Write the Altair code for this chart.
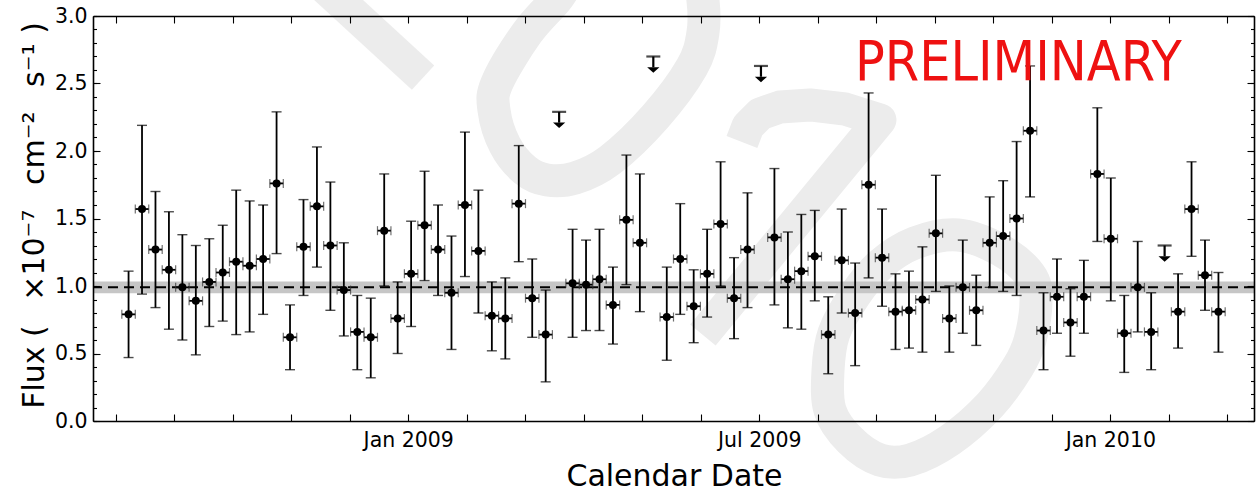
import altair as alt
import pandas as pd

# ---------------- data ----------------
bin_start_mjd = 54683.0      # start of the first weekly bin (MJD)
bin_days = 7.0

# weekly flux (1e-7 ph cm^-2 s^-1); None = week with an upper limit only
flux = [0.79, 1.57, 1.27, 1.12, 0.99, 0.89, 1.03, 1.10, 1.18, 1.15,
        1.20, 1.76, 0.62, 1.29, 1.59, 1.30, 0.97, 0.66, 0.62, 1.41,
        0.76, 1.09, 1.45, 1.27, 0.95, 1.60, 1.26, 0.78, 0.76, 1.61,
        0.91, 0.64, None, 1.02, 1.01, 1.05, 0.86, 1.49, 1.32, None,
        0.77, 1.20, 0.85, 1.09, 1.46, 0.91, 1.27, None, 1.36, 1.05,
        1.11, 1.22, 0.64, 1.19, 0.80, 1.75, 1.21, 0.81, 0.82, 0.90,
        1.39, 0.76, 0.99, 0.82, 1.32, 1.37, 1.50, 2.15, 0.67, 0.92,
        0.73, 0.92, 1.83, 1.35, 0.65, 0.99, 0.66, None, 0.81, 1.57,
        1.08, 0.81]
flux_hi = [1.11, 2.19, 1.70, 1.55, 1.38, 1.30, 1.35, 1.45, 1.71, 1.63,
           1.60, 2.29, 0.86, 1.64, 2.03, 1.77, 1.32, 0.93, 0.91, 1.83,
           1.03, 1.48, 1.85, 1.60, 1.37, 2.14, 1.71, 1.03, 1.06, 2.04,
           1.20, 0.97, None, 1.42, 1.34, 1.42, 1.14, 1.97, 1.83, None,
           1.14, 1.61, 1.12, 1.42, 1.92, 1.21, 1.69, None, 1.87, 1.40,
           1.53, 1.56, 0.92, 1.57, 1.17, 2.43, 1.57, 1.09, 1.11, 1.29,
           1.82, 1.00, 1.34, 1.08, 1.66, 1.78, 2.07, 2.63, 0.95, 1.20,
           0.98, 1.19, 2.32, 1.80, 0.93, 1.33, 0.95, None, 1.09, 1.92,
           1.34, 1.10]
flux_lo = [0.47, 0.94, 0.84, 0.68, 0.60, 0.49, 0.70, 0.74, 0.64, 0.66,
           0.79, 1.24, 0.38, 0.93, 1.14, 0.82, 0.63, 0.38, 0.32, 1.00,
           0.50, 0.70, 1.04, 0.93, 0.53, 1.07, 0.80, 0.52, 0.46, 1.18,
           0.62, 0.29, None, 0.62, 0.67, 0.67, 0.57, 1.01, 0.81, None,
           0.45, 0.79, 0.58, 0.77, 1.00, 0.61, 0.84, None, 0.86, 0.69,
           0.68, 0.89, 0.35, 0.80, 0.41, 1.06, 0.85, 0.53, 0.54, 0.51,
           0.96, 0.51, 0.65, 0.56, 0.99, 0.96, 0.93, 1.66, 0.38, 0.65,
           0.48, 0.65, 1.33, 0.89, 0.36, 0.66, 0.38, None, 0.54, 1.22,
           0.82, 0.51]

ul_week = [32, 39, 47, 77]           # weekly bins with upper limits
ul_flux = [2.29, 2.70, 2.63, 1.30]

mean_flux = 0.99
mean_flux_err = 0.043

tick_labels = ["Jan 2009", "Jul 2009", "Jan 2010"]
tick_label_mjd = [54832.0, 55014.625, 55197.25]

# light watermark (centre lines of the strokes, in MJD / flux units)
wm_open_piece = ["a"] * 2 + ["c"] * 8
wm_open_mjd = [54773.1, 54839.7,
               55005.6, 55008.8, 55015.0, 55025.4, 55041.0, 55059.2, 55077.4, 54985.3]
wm_open_flux = [3.415, 2.544,
                2.067, 2.185, 2.274, 2.326, 2.341, 2.311, 2.230, 0.637]

wm_loop_piece = ["b"] * 17 + ["d"] * 17
wm_loop_mjd = [54908.9, 54893.8, 54878.2, 54876.6, 54882.3, 54892.7, 54904.2, 54918.8,
               54937.0, 54960.4, 54979.6, 54985.3, 54985.3, 54981.2, 54963.0, 54937.0,
               54918.8,
               55118.0, 55139.9, 55155.5, 55158.6, 55155.5, 55149.2, 55134.7, 55113.8,
               55093.0, 55077.4, 55061.8, 55051.4, 55050.4, 55053.5, 55064.4, 55077.4,
               55095.6]
wm_loop_flux = [3.119, 2.874, 2.504, 2.304, 2.044, 1.859, 1.785, 1.800,
                1.933, 2.252, 2.622, 2.874, 3.119, 3.378, 3.526, 3.452,
                3.304,
                1.378, 1.267, 1.081, 0.896, 0.600, 0.400, 0.119, -0.141,
                -0.289, -0.289, -0.141, 0.081, 0.378, 0.652, 0.933, 1.156,
                1.319]

# ---------------- tables ----------------
n = len(flux)
t_center = [bin_start_mjd + bin_days * (i + 0.5) for i in range(n)]
det = pd.DataFrame({"t": t_center, "flux": flux, "hi": flux_hi, "lo": flux_lo}).dropna()
det["t0"] = det["t"] - bin_days / 2
det["t1"] = det["t"] + bin_days / 2

ul = pd.DataFrame({"t": [t_center[w] for w in ul_week], "ul": ul_flux})
ul["stem_end"] = ul["ul"] - 0.08
ul["head"] = ul["ul"] - 0.10

mean_df = pd.DataFrame({"mean": [mean_flux],
                        "lo": [mean_flux - mean_flux_err],
                        "hi": [mean_flux + mean_flux_err]})

wm_open = pd.DataFrame({"piece": wm_open_piece, "x": wm_open_mjd, "y": wm_open_flux})
wm_open["i"] = range(len(wm_open))
wm_loop = pd.DataFrame({"piece": wm_loop_piece, "x": wm_loop_mjd, "y": wm_loop_flux})
wm_loop["i"] = range(len(wm_loop))

text_df = pd.DataFrame({"x": [55064.4], "y": [2.526], "txt": ["PRELIMINARY"]})

# ---------------- scales & axes ----------------
W, H = 1161, 405
FONT = "DejaVu Sans"
xs = alt.Scale(domain=[54668, 55272], nice=False, zero=False)
ys = alt.Scale(domain=[0, 3], nice=False, zero=False)

month_ticks = [54832 + k * 365.25 / 12 for k in range(-5, 15)]
y_major = [i * 0.5 for i in range(7)]
y_minor = [i * 0.1 for i in range(31)]

label_expr = "''"
for v, lab in zip(reversed(tick_label_mjd), reversed(tick_labels)):
    label_expr = f"abs(datum.value - {v}) < 1 ? '{lab}' : ({label_expr})"

SP = "\u2002"  # wide, non-collapsing space (mathtext-like spacing)
y_title = f"Flux ({SP} ×10⁻⁷{SP} cm⁻²{SP} s⁻¹ )"

ax_x_labels = alt.Axis(orient="bottom", values=tick_label_mjd, labelExpr=label_expr,
                       ticks=False, domain=True, domainColor="black", domainWidth=1.6,
                       labelFont=FONT, labelFontSize=20.5, labelColor="black",
                       labelPadding=25, labelBaseline="alphabetic", labelFlush=False,
                       labelOverlap=False, grid=False,
                       title="Calendar Date", titleFont=FONT, titleFontSize=30,
                       titleFontWeight="normal", titleColor="black",
                       titleX=581, titleY=64, titleBaseline="alphabetic", zindex=1)
ax_y_labels = alt.Axis(orient="left", values=y_major, format=".1f",
                       ticks=False, domain=True, domainColor="black", domainWidth=1.6,
                       labelFont=FONT, labelFontSize=20.5, labelColor="black",
                       labelPadding=6, labelBaseline="middle", labelOverlap=False,
                       grid=False,
                       title=y_title, titleFont=FONT, titleFontSize=30,
                       titleFontWeight="normal", titleColor="black", titleAngle=270,
                       titleX=-50, titleY=199, titleBaseline="alphabetic",
                       titleAlign="center", zindex=1)


def tick_axis(orient, values, size):
    return alt.Axis(orient=orient, values=values, offset=-size, tickSize=size,
                    tickWidth=1.1, tickColor="black", labels=False, domain=False,
                    grid=False, title=None, zindex=1)


def frame_axis(orient):
    return alt.Axis(orient=orient, ticks=False, labels=False, domain=True,
                    domainColor="black", domainWidth=1.6, grid=False, title=None,
                    zindex=1)


# ---------------- layers ----------------
wm1 = alt.Chart(wm_open).mark_line(color="#ececec", strokeWidth=33, strokeCap="butt",
                                   strokeJoin="round", clip=False).encode(
    x=alt.X("x:Q", scale=xs, axis=None), y=alt.Y("y:Q", scale=ys, axis=None),
    detail="piece:N", order="i:Q")
wm2 = alt.Chart(wm_loop).mark_line(color="#ececec", strokeWidth=33,
                                   interpolate="cardinal-closed", clip=False).encode(
    x=alt.X("x:Q", scale=xs, axis=None), y=alt.Y("y:Q", scale=ys, axis=None),
    detail="piece:N", order="i:Q")

band = alt.Chart(mean_df).mark_rect(color="#c6c6c6").encode(
    y=alt.Y("lo:Q", scale=ys, axis=None), y2="hi:Q")
mean_line = alt.Chart(mean_df).mark_rule(color="black", strokeWidth=2,
                                         strokeDash=[10, 6]).encode(
    y=alt.Y("mean:Q", scale=ys, axis=None))

verr = alt.Chart(det).mark_rule(color="black", strokeWidth=1.8).encode(
    x=alt.X("t:Q", scale=xs, axis=ax_x_labels),
    y=alt.Y("lo:Q", scale=ys, axis=ax_y_labels), y2="hi:Q")
vcaps = alt.Chart(det).transform_fold(["lo", "hi"], as_=["k", "v"]).mark_tick(
    orient="horizontal", size=10, thickness=1.4, color="black").encode(
    x=alt.X("t:Q", scale=xs, axis=tick_axis("bottom", month_ticks, 7)),
    y=alt.Y("v:Q", scale=ys, axis=tick_axis("left", y_major, 7)))
herr = alt.Chart(det).mark_rule(color="black", strokeWidth=1.8).encode(
    x=alt.X("t0:Q", scale=xs, axis=tick_axis("top", month_ticks, 7)), x2="t1:Q",
    y=alt.Y("flux:Q", scale=ys, axis=tick_axis("left", y_minor, 3.5)))
hcaps = alt.Chart(det).transform_fold(["t0", "t1"], as_=["k", "v"]).mark_tick(
    orient="vertical", size=9, thickness=1.2, color="#333333").encode(
    x=alt.X("v:Q", scale=xs, axis=frame_axis("top")),
    y=alt.Y("flux:Q", scale=ys, axis=tick_axis("right", y_major, 7)))
points = alt.Chart(det).mark_circle(color="black", size=64, opacity=1).encode(
    x=alt.X("t:Q", scale=xs, axis=None),
    y=alt.Y("flux:Q", scale=ys, axis=tick_axis("right", y_minor, 3.5)))

ul_cap = alt.Chart(ul).mark_tick(orient="horizontal", size=14, thickness=2.2,
                                 color="black").encode(
    x=alt.X("t:Q", scale=xs, axis=None),
    y=alt.Y("ul:Q", scale=ys, axis=frame_axis("right")))
ul_stem = alt.Chart(ul).mark_rule(color="black", strokeWidth=2.2).encode(
    x=alt.X("t:Q", scale=xs, axis=None),
    y=alt.Y("ul:Q", scale=ys, axis=None), y2="stem_end:Q")
ul_head = alt.Chart(ul).mark_point(shape="M-1,-0.45L1,-0.45L0,0.45Z", filled=True,
                                   size=150, color="black", opacity=1,
                                   strokeWidth=0).encode(
    x=alt.X("t:Q", scale=xs, axis=None),
    y=alt.Y("head:Q", scale=ys, axis=None))

prelim = alt.Chart(text_df).mark_text(align="left", baseline="alphabetic",
                                      font="DejaVu Sans Condensed, DejaVu Sans",
                                      fontSize=55, color="#ee1111").encode(
    x=alt.X("x:Q", scale=xs, axis=None), y=alt.Y("y:Q", scale=ys, axis=None),
    text="txt:N")

chart = alt.layer(
    wm1, wm2, band, mean_line, verr, vcaps, herr, hcaps, points,
    ul_cap, ul_stem, ul_head, prelim
).resolve_axis(x="independent", y="independent").properties(
    width=W, height=H,
    padding={"left": 93, "top": 16, "right": 6, "bottom": 71},
    autosize=alt.AutoSizeParams(type="none"),
).configure(background="white", font=FONT).configure_view(stroke=None)

chart.save("out.html", embed_options={"renderer": "svg", "actions": False})
